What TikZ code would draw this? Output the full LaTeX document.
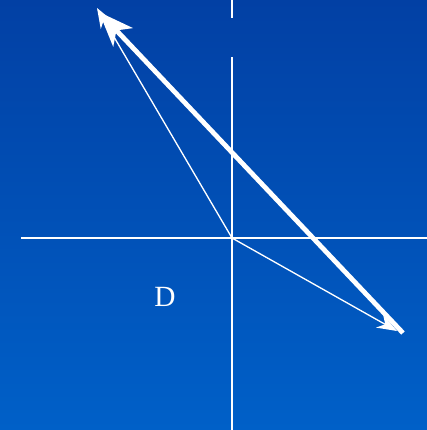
\documentclass[tikz,border=0pt]{standalone}
\usepackage{fontspec}
\setmainfont{Liberation Serif}
\usepackage{tikz}
\usepackage{xcolor}
\usetikzlibrary{arrows.meta, positioning, calc}
\definecolor{cTop}{RGB}{2,64,164}
\definecolor{cBottom}{RGB}{0,96,200}
\tikzset{
    axis/.style     ={white, line width=1.5pt},
    thinvec/.style  ={white, line width=1pt, -{Stealth[length=15pt, width=11pt]}},
    thickvec/.style ={white, line width=3.6pt, line cap=butt, -{Stealth[length=26pt, width=20pt, inset=7pt]}},
    lbl/.style      ={text=white, font=\fontsize{22}{24}\selectfont},
}
\begin{document}
\begin{tikzpicture}[x=0.75pt, y=-0.75pt]
                \shade[top color=cTop, bottom color=cBottom] (0,0) rectangle (427,430);
                \useasboundingbox (0,0) rectangle (427,430);
                \coordinate (O) at (232,238);
                \coordinate (yt) at (232,0);
                \coordinate (yg) at (232,18);
                \coordinate (yh) at (232,57);
                \coordinate (yb) at (232,430);
                \coordinate (xl) at (21,238);
                \coordinate (xr) at (427,238);
                \coordinate (a) at (97,8);
                \coordinate (b) at (397,331);
                \coordinate (p) at (403,333);
                \coordinate (q) at (99,12);
                \draw[axis](yt)--(yg);
                \draw[axis](yh)--(yb);
                \draw[axis](xl)--(xr);
                \draw[thinvec](O)--(a);
                \draw[thinvec](O)--(b);
                \draw[thickvec](p)--(q);
                \node[lbl] (d) at (165,297){D};
            \end{tikzpicture}
\end{document}
